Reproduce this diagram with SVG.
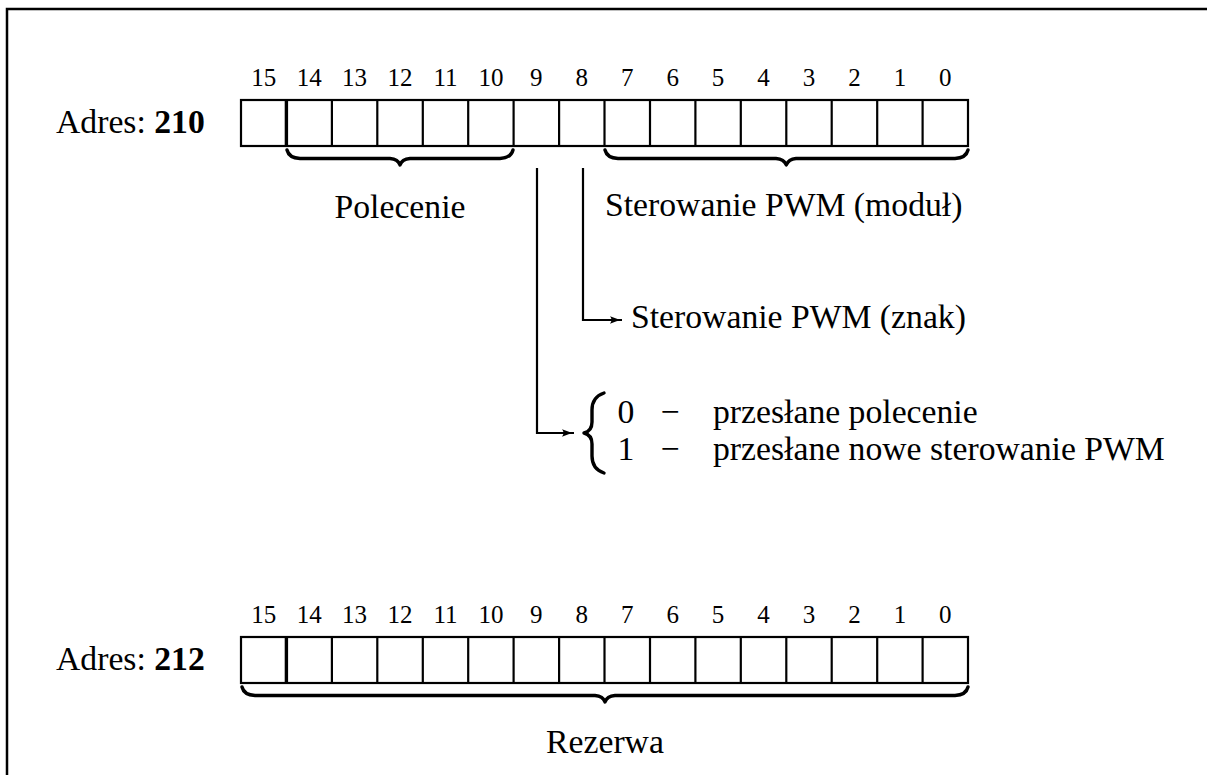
<svg xmlns="http://www.w3.org/2000/svg" width="1207" height="775" viewBox="0 0 1207 775">
<style>
text{font-family:"Liberation Serif","Times New Roman",Tinos,"DejaVu Serif",serif;fill:#000}
.num{font-size:25px;text-anchor:middle}
.lbl{font-size:33.7px}
.cell{fill:none;stroke:#000;stroke-width:2.2}
.sep{stroke:#000;stroke-width:2.2}
.bold{stroke:#000;stroke-width:3.4}
.brace{fill:none;stroke:#000;stroke-width:3.4;stroke-linecap:round;stroke-linejoin:round}
.conn{fill:none;stroke:#000;stroke-width:2.2}
</style>
<defs>
<marker id="arr" markerUnits="userSpaceOnUse" markerWidth="14" markerHeight="10" refX="12" refY="5" orient="auto">
<path d="M0,1.3 Q7,4.2 12,5 Q7,5.8 0,8.7 Q3,5 0,1.3 z" fill="#000"/>
</marker>
<g id="cells">
<rect class="cell" x="241" y="0" width="727" height="46"/>
<line class="bold" x1="286.4" y1="0" x2="286.4" y2="46"/>
<line class="sep" x1="331.9" y1="0" x2="331.9" y2="46"/>
<line class="sep" x1="377.3" y1="0" x2="377.3" y2="46"/>
<line class="sep" x1="422.8" y1="0" x2="422.8" y2="46"/>
<line class="sep" x1="468.2" y1="0" x2="468.2" y2="46"/>
<line class="sep" x1="513.6" y1="0" x2="513.6" y2="46"/>
<line class="sep" x1="559.1" y1="0" x2="559.1" y2="46"/>
<line class="sep" x1="604.5" y1="0" x2="604.5" y2="46"/>
<line class="sep" x1="650" y1="0" x2="650" y2="46"/>
<line class="sep" x1="695.4" y1="0" x2="695.4" y2="46"/>
<line class="sep" x1="740.8" y1="0" x2="740.8" y2="46"/>
<line class="sep" x1="786.3" y1="0" x2="786.3" y2="46"/>
<line class="sep" x1="831.7" y1="0" x2="831.7" y2="46"/>
<line class="sep" x1="877.2" y1="0" x2="877.2" y2="46"/>
<line class="sep" x1="922.6" y1="0" x2="922.6" y2="46"/>
</g>
<g id="nums">
<text class="num" x="263.7" y="0">15</text>
<text class="num" x="309.2" y="0">14</text>
<text class="num" x="354.6" y="0">13</text>
<text class="num" x="400" y="0">12</text>
<text class="num" x="445.5" y="0">11</text>
<text class="num" x="490.9" y="0">10</text>
<text class="num" x="536.3" y="0">9</text>
<text class="num" x="581.8" y="0">8</text>
<text class="num" x="627.2" y="0">7</text>
<text class="num" x="672.7" y="0">6</text>
<text class="num" x="718.1" y="0">5</text>
<text class="num" x="763.5" y="0">4</text>
<text class="num" x="809" y="0">3</text>
<text class="num" x="854.4" y="0">2</text>
<text class="num" x="899.9" y="0">1</text>
<text class="num" x="945.3" y="0">0</text>
</g>
</defs>

<g id="frame">
<path d="M7,775 V9 H1207" fill="none" stroke="#000" stroke-width="2.5"/>
</g>

<g id="reg210">
<text class="lbl" x="56" y="133">Adres: <tspan font-weight="bold">210</tspan></text>
<use href="#nums" y="86"/>
<use href="#cells" y="100"/>
</g>

<g id="polecenie">
<path class="brace" d="M287,150 Q289,158 300,158.5 L390,158.5 Q398,159 400,165 Q402,159 410,158.5 L500,158.5 Q511,158 513,150"/>
<text class="lbl" x="400" y="218" text-anchor="middle">Polecenie</text>
</g>

<g id="modul">
<path class="brace" d="M605,150 Q607,158 618,158.5 L776,158.5 Q784,159 786.3,165 Q788.6,159 796,158.5 L955,158.5 Q966,158 968,150"/>
<text class="lbl" x="605" y="216">Sterowanie PWM (moduł)</text>
</g>

<g id="znak">
<text class="lbl" x="631" y="328">Sterowanie PWM (znak)</text>
</g>

<g id="cases">
<path class="brace" stroke-width="2.4" d="M604,393 Q592,397 592,410 L592,422 Q592,431 584,433 Q592,435 592,444 L592,456 Q592,469 604,473"/>
<text class="lbl" x="626" y="423" text-anchor="middle">0</text>
<text class="lbl" x="670" y="423" text-anchor="middle">−</text>
<text class="lbl" x="713" y="423">przesłane polecenie</text>
<text class="lbl" x="626" y="460" text-anchor="middle">1</text>
<text class="lbl" x="670" y="460" text-anchor="middle">−</text>
<text class="lbl" x="713" y="460">przesłane nowe sterowanie PWM</text>
</g>

<g id="reg212">
<text class="lbl" x="56" y="670">Adres: <tspan font-weight="bold">212</tspan></text>
<use href="#nums" y="623"/>
<use href="#cells" y="637"/>
</g>

<g id="rezerwa">
<path class="brace" d="M242,687 Q244,695 255,695.5 L595,695.5 Q603,696 605,702 Q607,696 615,695.5 L955,695.5 Q966,695 968,687"/>
<text class="lbl" x="605" y="753" text-anchor="middle">Rezerwa</text>
</g>

<g id="connectors">
<path class="conn" d="M583,168 V320 H622" marker-end="url(#arr)"/>
<path class="conn" d="M537,168 V433 H574" marker-end="url(#arr)"/>
</g>
</svg>
